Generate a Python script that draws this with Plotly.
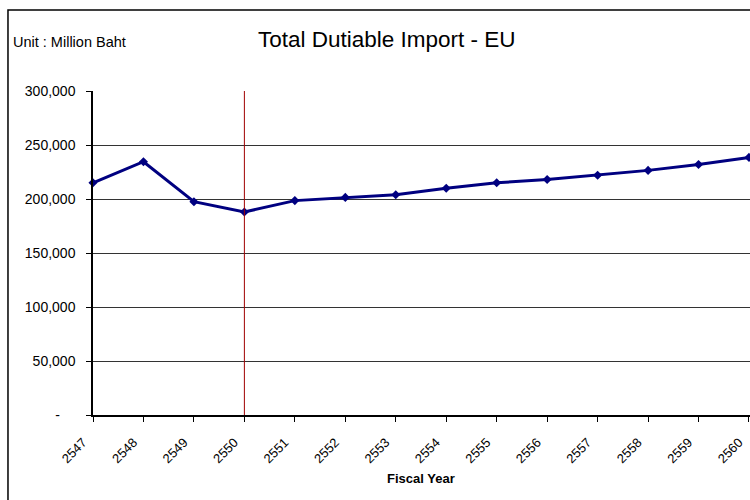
import plotly.graph_objects as go

years = [2547, 2548, 2549, 2550, 2551, 2552, 2553, 2554, 2555, 2556, 2557, 2558, 2559, 2560]
values = [215000, 234500, 197500, 188000, 198500, 201500, 204000, 210000, 215000, 218000, 222000, 226500, 232000, 238500]
y_tickvals = [0, 50000, 100000, 150000, 200000, 250000, 300000]
y_ticktext = ["-\u00a0\u00a0\u00a0\u00a0", "50,000", "100,000", "150,000", "200,000", "250,000", "300,000"]
marker_year = 2550

FONT = "Liberation Sans, Arial, sans-serif"

fig = go.Figure()
fig.add_trace(go.Scatter(
    x=years, y=values, mode="lines+markers",
    line=dict(color="#000080", width=3),
    marker=dict(symbol="diamond", size=7, color="#000080"),
    cliponaxis=False, showlegend=False,
))

fig.add_shape(type="line", xref="x", yref="y", x0=marker_year, x1=marker_year,
              y0=0, y1=300000, line=dict(color="#A00000", width=1))

# outer chart border
fig.add_shape(type="rect", xref="paper", yref="paper",
              x0=-0.1294, x1=1.05, y0=-0.35, y1=1.25,
              line=dict(color="#000000", width=1.5), layer="below")

fig.add_annotation(text="Total Dutiable Import - EU", xref="paper", yref="paper",
                   x=(386.5 - 93) / 657, y=(415 - 40) / 324, xanchor="center", yanchor="middle",
                   showarrow=False, font=dict(family=FONT, size=22.5, color="#000"))
fig.add_annotation(text="Unit : Million Baht", xref="paper", yref="paper",
                   x=(11 - 93) / 657, y=(415 - 42) / 324, xanchor="left", yanchor="middle",
                   showarrow=False, font=dict(family=FONT, size=14.5, color="#000"))
fig.add_annotation(text="<b>Fiscal Year</b>", xref="paper", yref="paper",
                   x=(421 - 93) / 657, y=(415 - 478) / 324, xanchor="center", yanchor="middle",
                   showarrow=False, font=dict(family=FONT, size=13, color="#000"))

fig.update_layout(
    width=750, height=500,
    margin=dict(l=93, r=0, t=91, b=85),
    paper_bgcolor="white", plot_bgcolor="white",
    font=dict(family=FONT, color="#000"),
    xaxis=dict(
        range=[2547, 2560.02], tickvals=years, ticktext=[str(y) for y in years],
        tickangle=-45, ticks="outside", ticklen=5, tickcolor="#000",
        ticklabelstandoff=8, ticklabelshift=-10, ticklabeloverflow="allow",
        showline=True, linecolor="#000", linewidth=1.5, showgrid=False, zeroline=False,
        tickfont=dict(family=FONT, size=13, color="#000"),
    ),
    yaxis=dict(
        range=[0, 300000], tickvals=y_tickvals, ticktext=y_ticktext,
        ticks="outside", ticklen=5, tickcolor="#000", ticklabelstandoff=8,
        showline=True, linecolor="#000", linewidth=1.5,
        showgrid=True, gridcolor="#333", gridwidth=1, zeroline=False,
        tickfont=dict(family=FONT, size=14, color="#000"),
    ),
)

fig.write_html("out.html")
